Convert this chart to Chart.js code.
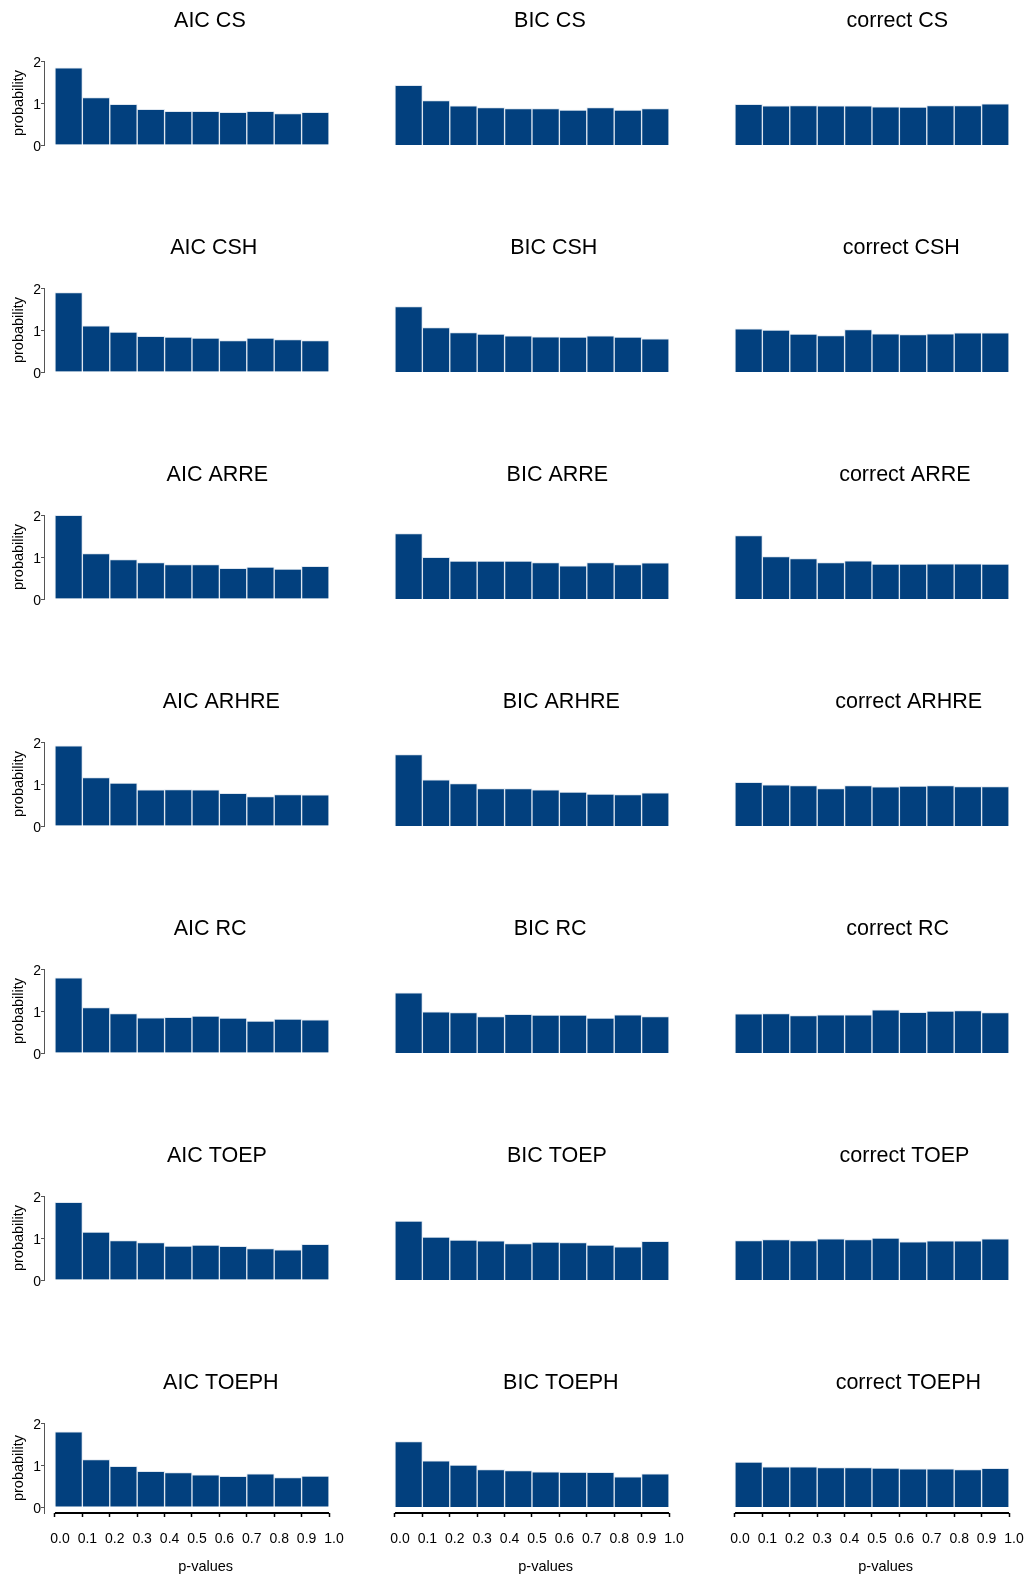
<!DOCTYPE html>
<html>
<head>
<meta charset="utf-8">
<title>p-value histograms</title>
<script src="https://cdn.jsdelivr.net/npm/chart.js@4.4.1/dist/chart.umd.min.js"></script>
<style>
  html, body { margin: 0; padding: 0; background: #fff; }
  #grid { position: relative; width: 1029px; height: 1578px; overflow: hidden; }
  #grid canvas { position: absolute; }
</style>
</head>
<body>
<div id="grid"></div>
<script>
// Panel labels
const criteria = ['AIC', 'BIC', 'correct'];
const structures = ['CS', 'CSH', 'ARRE', 'ARHRE', 'RC', 'TOEP', 'TOEPH'];

// Histogram bins (centres of the 0.1 wide bins) and axis ticks
const binCentres = [0.05, 0.15, 0.25, 0.35, 0.45, 0.55, 0.65, 0.75, 0.85, 0.95];
const yTicks = [0, 1, 2];

// Estimated bar heights (probability density), one array per panel
const aicCS        = [1.84, 1.13, 0.97, 0.85, 0.80, 0.80, 0.78, 0.80, 0.75, 0.78];
const bicCS        = [1.42, 1.06, 0.93, 0.89, 0.87, 0.87, 0.83, 0.89, 0.83, 0.87];
const correctCS    = [0.97, 0.93, 0.94, 0.93, 0.93, 0.91, 0.90, 0.94, 0.94, 0.98];
const aicCSH       = [1.89, 1.10, 0.95, 0.85, 0.83, 0.81, 0.75, 0.81, 0.77, 0.75];
const bicCSH       = [1.56, 1.06, 0.94, 0.90, 0.86, 0.84, 0.83, 0.86, 0.83, 0.79];
const correctCSH   = [1.03, 1.00, 0.90, 0.87, 1.01, 0.91, 0.89, 0.91, 0.93, 0.93];
const aicARRE      = [1.99, 1.08, 0.94, 0.87, 0.82, 0.82, 0.73, 0.76, 0.71, 0.78];
const bicARRE      = [1.56, 0.99, 0.90, 0.90, 0.90, 0.87, 0.79, 0.87, 0.82, 0.86];
const correctARRE  = [1.51, 1.01, 0.96, 0.87, 0.91, 0.83, 0.83, 0.84, 0.84, 0.83];
const aicARHRE     = [1.91, 1.15, 1.02, 0.86, 0.87, 0.86, 0.78, 0.70, 0.75, 0.74];
const bicARHRE     = [1.70, 1.10, 1.01, 0.89, 0.89, 0.86, 0.81, 0.76, 0.75, 0.79];
const correctARHRE = [1.04, 0.98, 0.96, 0.89, 0.96, 0.93, 0.95, 0.96, 0.94, 0.94];
const aicRC        = [1.79, 1.08, 0.94, 0.84, 0.85, 0.88, 0.83, 0.76, 0.81, 0.79];
const bicRC        = [1.43, 0.98, 0.96, 0.87, 0.92, 0.90, 0.90, 0.83, 0.91, 0.87];
const correctRC    = [0.93, 0.94, 0.89, 0.91, 0.91, 1.03, 0.97, 1.00, 1.01, 0.96];
const aicTOEP      = [1.85, 1.14, 0.94, 0.89, 0.81, 0.83, 0.80, 0.75, 0.72, 0.85];
const bicTOEP      = [1.40, 1.02, 0.95, 0.93, 0.87, 0.90, 0.89, 0.83, 0.79, 0.92];
const correctTOEP  = [0.94, 0.96, 0.94, 0.98, 0.96, 1.00, 0.91, 0.93, 0.93, 0.98];
const aicTOEPH     = [1.79, 1.13, 0.97, 0.85, 0.82, 0.77, 0.73, 0.79, 0.70, 0.74];
const bicTOEPH     = [1.56, 1.10, 1.00, 0.89, 0.87, 0.84, 0.83, 0.83, 0.72, 0.79];
const correctTOEPH = [1.07, 0.96, 0.96, 0.94, 0.94, 0.93, 0.91, 0.91, 0.89, 0.92];

const panelValues = [
  [aicCS, bicCS, correctCS],
  [aicCSH, bicCSH, correctCSH],
  [aicARRE, bicARRE, correctARRE],
  [aicARHRE, bicARHRE, correctARHRE],
  [aicRC, bicRC, correctRC],
  [aicTOEP, bicTOEP, correctTOEP],
  [aicTOEPH, bicTOEPH, correctTOEPH]
];

const FONT = '"Liberation Sans", Arial, Helvetica, sans-serif';
Chart.defaults.font.family = FONT;
Chart.defaults.color = '#000';

const barColour = '#02407e';
const barEdge = '#dfe7f0';

// titles are drawn off-centre, like in the original figure
const panelText = {
  id: 'panelText',
  afterDraw(chart, args, opts) {
    const { ctx, chartArea, scales: { x } } = chart;
    const left = x.getPixelForValue(0);
    const right = x.getPixelForValue(1);
    const mid = (left + right) / 2;
    ctx.save();
    ctx.fillStyle = '#000';
    ctx.textBaseline = 'middle';
    ctx.textAlign = 'left';
    ctx.font = '21.5px ' + FONT;
    const w = ctx.measureText(opts.text).width;
    ctx.fillText(opts.text, mid - 0.25 * w, 21);
    if (opts.xTitle) {
      ctx.strokeStyle = '#000';
      ctx.lineWidth = 2;
      ctx.beginPath();
      ctx.moveTo(left, chartArea.bottom);
      ctx.lineTo(right, chartArea.bottom);
      ctx.stroke();
      ctx.font = '14.5px ' + FONT;
      const w2 = ctx.measureText(opts.xTitle).width;
      ctx.fillText(opts.xTitle, mid - 0.25 * w2, chartArea.bottom + 54);
    }
    ctx.restore();
  }
};

const grid = document.getElementById('grid');

function makePanel(row, col) {
  const values = panelValues[row][col];
  const isLeft = col === 0;
  const isBottom = row === structures.length - 1;
  const h = isBottom ? 216 : 227;

  const canvas = document.createElement('canvas');
  canvas.width = 349;
  canvas.height = h;
  canvas.style.left = (col * 340) + 'px';
  canvas.style.top = (row * 227) + 'px';
  grid.appendChild(canvas);

  new Chart(canvas, {
    type: 'bar',
    data: {
      datasets: [{
        data: binCentres.map((x, i) => ({ x: x, y: values[i] })),
        backgroundColor: barColour,
        borderColor: barEdge,
        borderWidth: 1,
        barPercentage: 1,
        categoryPercentage: 1
      }]
    },
    options: {
      responsive: false,
      animation: false,
      events: [],
      layout: {
        padding: { left: isLeft ? 0 : 44, top: 61, right: 20, bottom: isBottom ? 0 : h - 145 }
      },
      plugins: {
        legend: { display: false },
        tooltip: { enabled: false },
        panelText: {
          text: criteria[col] + ' ' + structures[row],
          xTitle: isBottom ? 'p-values' : null
        }
      },
      scales: {
        x: {
          type: 'linear',
          min: -0.04,
          max: 1,
          offset: false,
          display: isBottom,
          border: { display: false },
          grid: {
            offset: false,
            drawOnChartArea: false,
            drawTicks: true,
            tickLength: 4,
            tickWidth: 1.5,
            tickColor: '#000'
          },
          ticks: {
            stepSize: 0.1,
            includeBounds: false,
            autoSkip: false,
            maxRotation: 0,
            padding: 14,
            labelOffset: 5,
            color: '#000',
            font: { size: 14 },
            callback: v => v.toFixed(1)
          },
          afterFit: s => {
            if (!isBottom) return;
            s.height = h - 151;
            s.paddingLeft = 0;
            s.paddingRight = 0;
          }
        },
        y: {
          min: isBottom ? -0.14 : yTicks[0],
          max: yTicks[yTicks.length - 1],
          display: isLeft,
          border: { display: true, color: '#555', width: 1 },
          grid: { drawOnChartArea: false, drawTicks: true, tickLength: 3, color: '#555' },
          ticks: {
            stepSize: 1,
            includeBounds: false,
            padding: 0,
            labelOffset: 2,
            color: '#000',
            font: { size: 14 },
            callback: v => String(v)
          },
          title: {
            display: true,
            text: 'probability',
            color: '#000',
            font: { size: 14.5 },
            padding: { top: 10.3, bottom: 0 }
          },
          afterFit: s => {
            if (!isLeft) return;
            s.width = 44;
            s.paddingTop = 0;
            s.paddingBottom = 0;
          }
        }
      }
    },
    plugins: [panelText]
  });
}

for (let r = 0; r < structures.length; r++) {
  for (let c = 0; c < criteria.length; c++) {
    makePanel(r, c);
  }
}
</script>
</body>
</html>
